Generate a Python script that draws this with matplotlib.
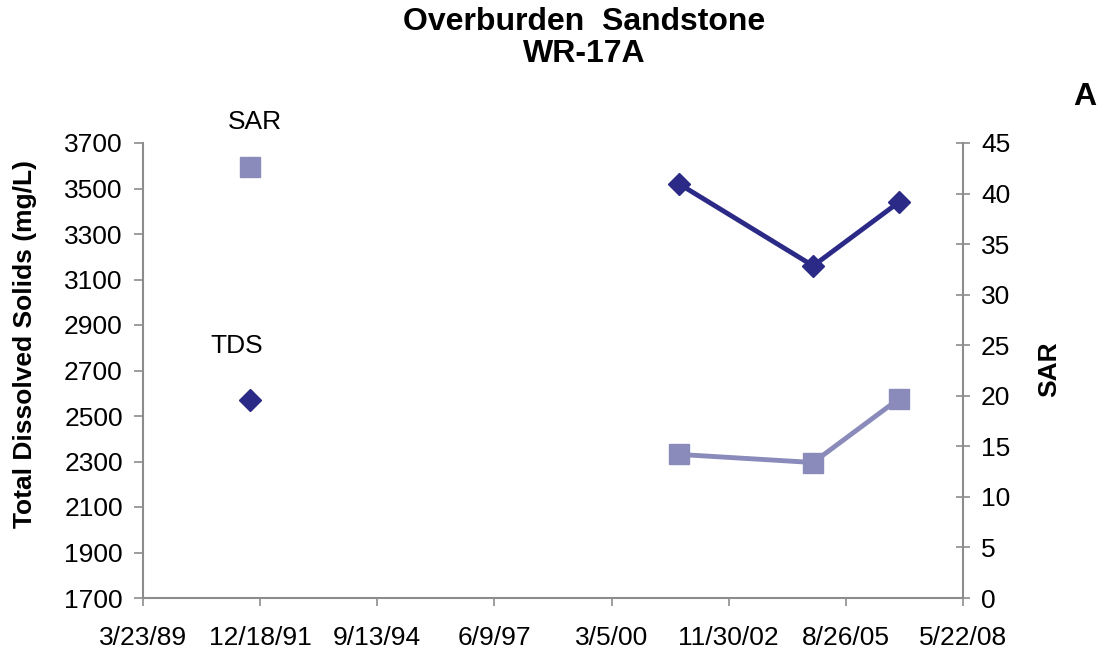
import numpy as np
import pandas as pd
import matplotlib
matplotlib.use("Agg")
import matplotlib.pyplot as plt
import matplotlib.dates as mdates

plt.rcParams['font.family'] = ['Liberation Sans', 'DejaVu Sans']

# TDS (mg/L) and SAR sampled at the well
fechas = pd.to_datetime(["2001-10-03", "2004-11-20", "2006-11-22"])
tds = [3520, 3160, 3440]
sar = [14.2, 13.4, 19.7]

# single early sample, labelled directly
fecha_ini = pd.to_datetime(["1991-09-22"])
tds_ini = [2570]
sar_ini = [42.6]

ticks_x = pd.date_range("1989-03-23", periods=8, freq="1000D")

oscuro = "#2B2B87"
claro = "#8A8BBA"
gris = "#8C8C8C"

fig = plt.figure(figsize=(11.07, 6.53), dpi=100)
ax = fig.add_axes([143 / 1107, 1 - 598 / 653, 820 / 1107, 455 / 653])
ax2 = ax.twinx()

ax.plot(fechas, tds, color=oscuro, lw=3.5, marker="D", ms=11, zorder=3)
ax.plot(fecha_ini, tds_ini, color=oscuro, ls="none", marker="D", ms=11)
ax2.plot(fechas, sar, color=claro, lw=3.5, marker="s", ms=14.5)
ax2.plot(fecha_ini, sar_ini, color=claro, ls="none", marker="s", ms=14.5)

ax.set_xlim(ticks_x[0], ticks_x[-1])
ax.set_ylim(1700, 3700)
ax2.set_ylim(0, 45)
ax.set_xticks(ticks_x)
ax.xaxis.set_major_formatter(mdates.DateFormatter("%-m/%-d/%y"))
ax.set_yticks(np.arange(1700, 3701, 200))
ax2.set_yticks(np.arange(0, 46, 5))

for a in (ax, ax2):
    for s in a.spines.values():
        s.set_visible(False)
ax.spines["left"].set_visible(True)
ax.spines["bottom"].set_visible(True)
ax2.spines["right"].set_visible(True)
for s in (ax.spines["left"], ax.spines["bottom"], ax2.spines["right"]):
    s.set_color(gris)
    s.set_linewidth(1.5)

ax.tick_params(axis="y", direction="out", length=6.5, width=1.2, color=gris,
               labelsize=19, pad=8)
ax.tick_params(axis="x", direction="out", length=6, width=1.2, color=gris,
               labelsize=19, pad=14)
ax2.tick_params(axis="y", direction="inout", length=10, width=1.2, color=gris,
                labelsize=19, pad=8)

ax.set_ylabel("Total Dissolved Solids (mg/L)", fontsize=19, fontweight="bold")
ax.yaxis.set_label_coords(37 / 1107, 1 - 344 / 653, transform=fig.transFigure)
ax2.set_ylabel("SAR", fontsize=19, fontweight="bold")
ax2.yaxis.set_label_coords(1037 / 1107, 1 - 369 / 653, transform=fig.transFigure)

# series names written next to the early sample
ax2.annotate("SAR", (fecha_ini[0], sar_ini[0]), xytext=(5, 45),
             textcoords="offset pixels", fontsize=19, ha="center", va="center")
ax.annotate("TDS", (fecha_ini[0], tds_ini[0]), xytext=(-13, 54),
            textcoords="offset pixels", fontsize=19, ha="center", va="center")

fig.text(584 / 1107, 1 - 38 / 653, "Overburden  Sandstone\nWR-17A", ha="center",
         va="center", fontsize=23, fontweight="bold", linespacing=1.05)
fig.text(1 - 22 / 1107, 1 - 97 / 653, "A", ha="center", va="center",
         fontsize=23, fontweight="bold")

fig.savefig("out.png", dpi=100)
